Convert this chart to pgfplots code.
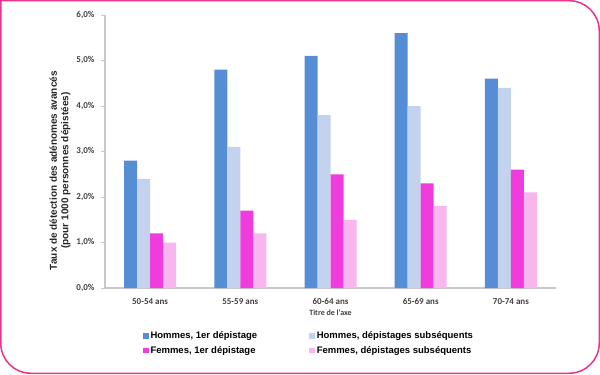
\documentclass[border=0pt]{standalone}
\usepackage{pgfplots}
\pgfplotsset{compat=1.18}
\usepackage{fontspec}
\setmainfont{Liberation Sans}
\newfontfamily\carlito{Carlito}
\definecolor{hom1}{HTML}{558ED5}
\definecolor{hom2}{HTML}{C3D3EE}
\definecolor{fem1}{HTML}{F03CDC}
\definecolor{fem2}{HTML}{F8B6EE}
\definecolor{frame}{HTML}{E8348C}
\definecolor{axgray}{HTML}{C8C8C8}
\definecolor{txt}{HTML}{404040}
\begin{document}
\begin{tikzpicture}[x=1bp,y=1bp]
\draw[frame, line width=1.5bp, rounded corners=0bp] (0.75,373.25) -- (570,373.25) [rounded corners=30bp] -- (599.25,373.25) -- (599.25,0.75) [rounded corners=0bp] -- (30,0.75) [rounded corners=30bp] -- (0.75,0.75) [rounded corners=0bp] -- (0.75,373.25) -- cycle;
\begin{axis}[
  at={(105bp,86bp)}, anchor=south west,
  scale only axis, width=451bp, height=273bp,
  ybar=0pt, bar width=13bp,
  ymin=0, ymax=6, xmin=-0.5, xmax=4.5,
  xtick={0,1,2,3,4},
  xticklabels={50-54 ans,55-59 ans,60-64 ans,65-69 ans,70-74 ans},
  ytick={0,1,2,3,4,5,6},
  yticklabels={{0,0\%},{1,0\%},{2,0\%},{3,0\%},{4,0\%},{5,0\%},{6,0\%}},
  axis x line*=bottom, axis y line*=left,
  axis line style={axgray, line width=1.5bp, -},
  xtick style={draw=none},
  ytick style={axgray, line width=0.8bp},
  tick align=outside, major tick length=4bp,
  ticklabel style={font=\carlito\bfseries\fontsize{9bp}{10bp}\selectfont, text=txt},
  xticklabel style={yshift=-3bp},
  yticklabel style={xshift=-3bp},
  xlabel={Titre de l'axe},
  xlabel style={font=\carlito\bfseries\fontsize{8bp}{9bp}\selectfont, text=txt, at={(axis description cs:0.5,0)}, anchor=center, yshift=-25bp},
  ylabel={Taux de détection des adénomes avancés\\(pour 1000 personnes dépistées)},
  ylabel style={font=\bfseries\fontsize{10bp}{11.5bp}\selectfont, text=black!85, align=center, at={(axis description cs:-0.1,0.43)}, anchor=center},
  legend columns=2,
  legend cell align=left,
  legend style={draw=none, fill=none, at={(axis description cs:0.077,-0.145)}, anchor=north west,
    font=\bfseries\fontsize{9.5bp}{11bp}\selectfont, text=black,
    /tikz/every even column/.append style={column sep=50bp},
    row sep=2bp},
  legend image code/.code={\fill[#1] (0bp,-2.8bp) rectangle (5.6bp,2.8bp);},
  clip=false,
]
\addplot[fill=hom1, draw=none] coordinates {(0,2.8) (1,4.8) (2,5.1) (3,5.6) (4,4.6)};
\addplot[fill=hom2, draw=none] coordinates {(0,2.4) (1,3.1) (2,3.8) (3,4.0) (4,4.4)};
\addplot[fill=fem1, draw=none] coordinates {(0,1.2) (1,1.7) (2,2.5) (3,2.3) (4,2.6)};
\addplot[fill=fem2, draw=none] coordinates {(0,1.0) (1,1.2) (2,1.5) (3,1.8) (4,2.1)};
\legend{Hommes{,} 1er dépistage, Hommes{,} dépistages subséquents, Femmes{,} 1er dépistage, Femmes{,} dépistages subséquents}
\end{axis}
\end{tikzpicture}
\end{document}
